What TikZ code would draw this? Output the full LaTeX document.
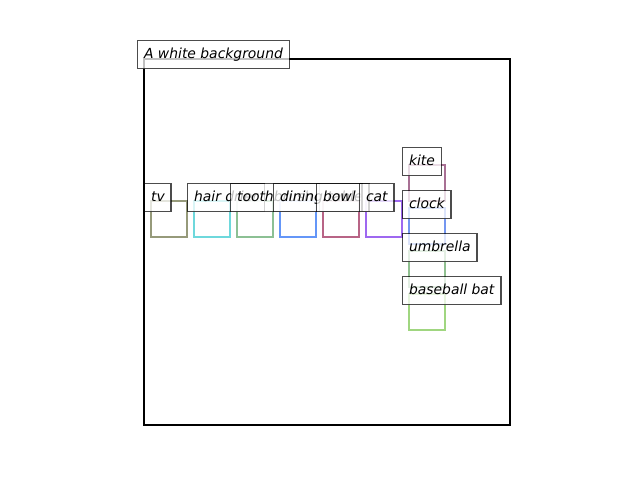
\documentclass[tikz,border=0pt]{standalone}
\usepackage{fontspec}
\setmainfont{DejaVu Sans}
\begin{document}
\begin{tikzpicture}[x=0.72pt,y=-0.72pt,
  lbl/.style={draw=black, draw opacity=0.7, fill=white, fill opacity=0.75, text opacity=1,
    line width=1pt, anchor=north west, inner xsep=4.6pt, inner ysep=0pt,
    minimum height=20.16pt, text height=7.4pt, text depth=2.2pt,
    font=\fontsize{10pt}{12pt}\selectfont\itshape},
  obj/.style={line width=2.1pt}]
\useasboundingbox (0,0) rectangle (640,480);
\definecolor{ctv}{RGB}{150,154,122}
\definecolor{chair}{RGB}{110,216,220}
\definecolor{ctooth}{RGB}{140,192,148}
\definecolor{cdining}{RGB}{100,150,248}
\definecolor{cbowl}{RGB}{184,100,134}
\definecolor{ccat}{RGB}{158,104,240}
\definecolor{ckite}{RGB}{168,112,148}
\definecolor{cclock}{RGB}{116,150,240}
\definecolor{cumb}{RGB}{144,192,144}
\definecolor{cbat}{RGB}{160,214,128}
% object boxes
\draw[obj, ctv] (151,201) rectangle (187,237);
\draw[obj, chair] (194,201) rectangle (230,237);
\draw[obj, ctooth] (237,201) rectangle (273,237);
\draw[obj, cdining] (280,201) rectangle (316,237);
\draw[obj, cbowl] (323,201) rectangle (359,237);
\draw[obj, ccat] (366,201) rectangle (402,237);
\draw[obj, ckite] (409,165) rectangle (445,201);
\draw[obj, cclock] (409,208) rectangle (445,244);
\draw[obj, cumb] (409,251) rectangle (445,287);
\draw[obj, cbat] (409,294) rectangle (445,330);
% frame
\draw[line width=1.6pt] (144,59) rectangle (510,425);
% labels
\node[lbl] (title) at (137,40) {A white background};
\node[lbl] (tv) at (144,183) {tv};
\node[lbl] (hair) at (187,183) {hair drier};
\node[lbl] (tooth) at (230,183) {toothbrush};
\node[lbl] (dining) at (273,183) {dining table};
\node[lbl] (bowl) at (316,183) {bowl};
\node[lbl] (cat) at (359,183) {cat};
\node[lbl] (kite) at (402,147) {kite};
\node[lbl] (clock) at (402,190) {clock};
\node[lbl] (umb) at (402,233) {umbrella};
\node[lbl] (bat) at (402,276) {baseball bat};
\end{tikzpicture}
\end{document}
